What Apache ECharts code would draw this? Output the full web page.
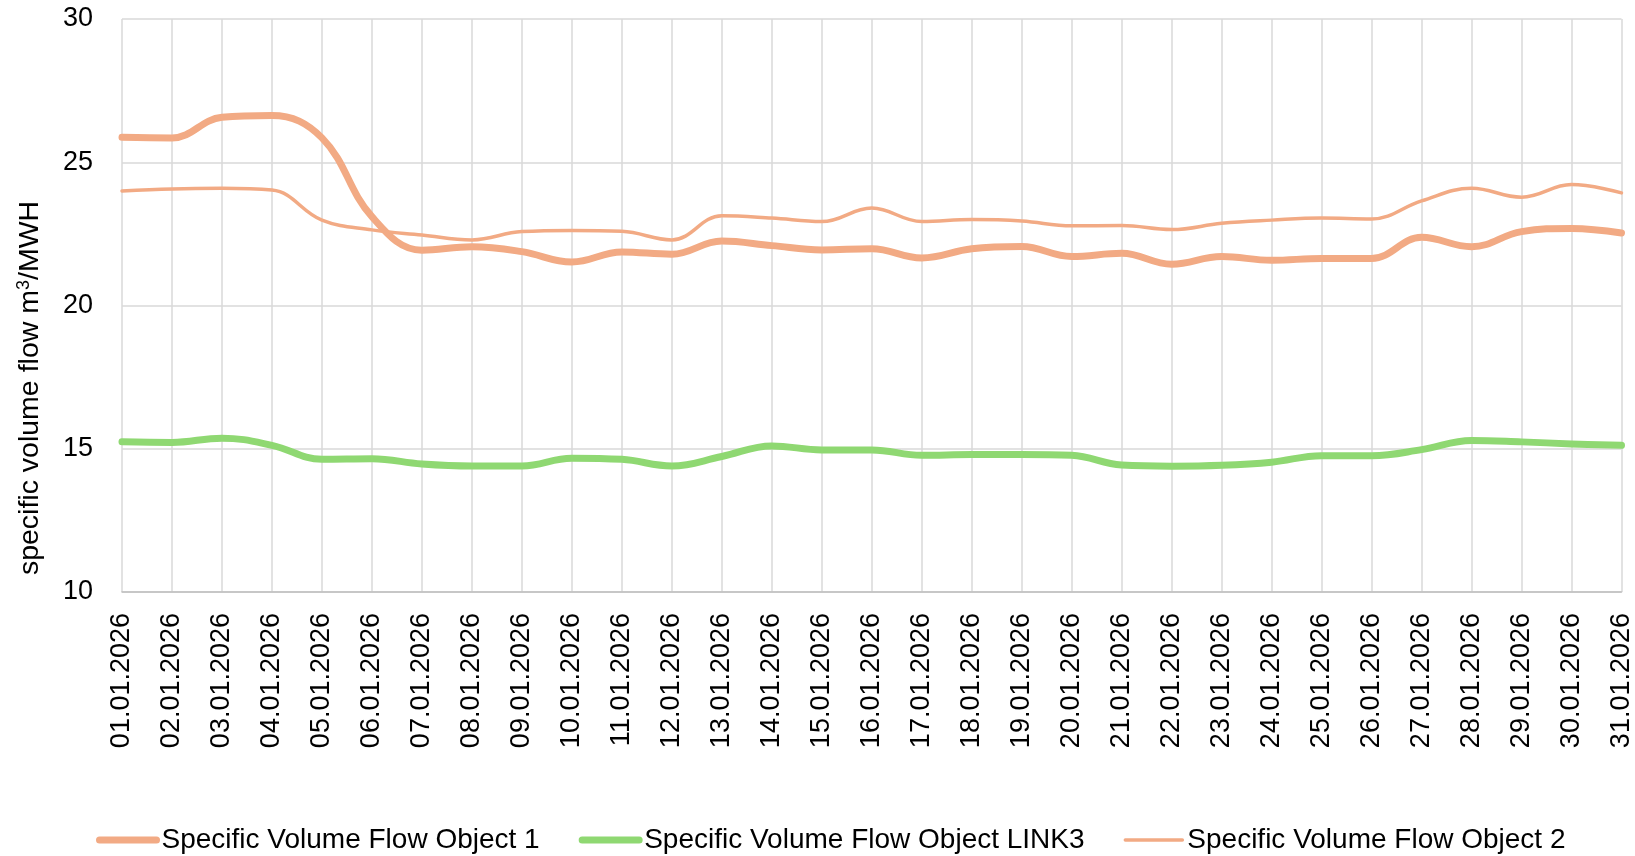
<!DOCTYPE html>
<html>
<head>
<meta charset="utf-8">
<script src="https://cdn.jsdelivr.net/npm/echarts@6/dist/echarts.min.js"></script>
<style>
html,body{margin:0;padding:0;background:#fff;}
#chart{width:1635px;height:856px;}
</style>
</head>
<body>
<div id="chart"></div>
<script>
const categories = ["01.01.2026","02.01.2026","03.01.2026","04.01.2026","05.01.2026","06.01.2026","07.01.2026","08.01.2026","09.01.2026","10.01.2026","11.01.2026","12.01.2026","13.01.2026","14.01.2026","15.01.2026","16.01.2026","17.01.2026","18.01.2026","19.01.2026","20.01.2026","21.01.2026","22.01.2026","23.01.2026","24.01.2026","25.01.2026","26.01.2026","27.01.2026","28.01.2026","29.01.2026","30.01.2026","31.01.2026"];
const object1 = [25.87,25.85,26.57,26.63,25.85,23.1,21.93,22.05,21.88,21.52,21.87,21.79,22.25,22.09,21.94,21.98,21.66,21.98,22.06,21.71,21.82,21.44,21.71,21.58,21.64,21.64,22.38,22.05,22.58,22.69,22.53];
const link3 = [15.24,15.22,15.37,15.12,14.63,14.65,14.47,14.40,14.40,14.67,14.63,14.40,14.73,15.1,14.96,14.96,14.77,14.80,14.80,14.77,14.43,14.39,14.42,14.53,14.76,14.76,14.97,15.29,15.24,15.17,15.12];
const object2 = [24.0,24.07,24.09,24.03,22.98,22.64,22.46,22.29,22.58,22.62,22.59,22.29,23.13,23.05,22.93,23.40,22.93,23.0,22.95,22.78,22.79,22.65,22.87,22.98,23.05,23.02,23.65,24.09,23.78,24.22,23.93];
const seriesNames = ["Specific Volume Flow Object 1","Specific Volume Flow Object LINK3","Specific Volume Flow Object 2"];
const yTicks = {min:10, max:30, interval:5};

const FONT = "'Liberation Sans', Arial, sans-serif";
const ORANGE = '#F2AA84';
const GREEN = '#8FD872';
const widths = [7, 7, 3.5];

const chart = echarts.init(document.getElementById('chart'), null, {renderer:'canvas'});
chart.setOption({
  animation:false,
  backgroundColor:'#fff',
  grid:{left:122,right:12,top:19,bottom:264,containLabel:false},
  legend:{
    data:seriesNames.map((n,i)=>({name:n,lineStyle:{width:widths[i],cap:'round'},itemStyle:{opacity:0}})),
    left:96, top:826,
    itemWidth:57, itemHeight:14, itemGap:39,
    padding:0,
    itemStyle:{opacity:0},
    textStyle:{fontFamily:FONT,fontSize:28,color:'#000'}
  },
  graphic:[{
    type:'text',
    x:30, y:388,
    rotation:Math.PI/2,
    style:{
      text:'specific volume flow m{sup|3}/MWH',
      fontFamily:FONT, fontSize:28.5, fill:'#000',
      align:'center', verticalAlign:'middle',
      rich:{sup:{fontFamily:FONT,fontSize:18,fill:'#000',verticalAlign:'top',padding:[0,0,12,0]}}
    }
  }],
  xAxis:{
    type:'category',
    data:categories,
    boundaryGap:false,
    axisTick:{show:false},
    axisLine:{show:true,lineStyle:{color:'#BFBFBF',width:1.5}},
    axisLabel:{rotate:90,fontFamily:FONT,fontSize:27,color:'#000',margin:21,interval:0},
    splitLine:{show:true,lineStyle:{color:'#D9D9D9',width:1.5}}
  },
  yAxis:{
    type:'value',
    min:yTicks.min, max:yTicks.max, interval:yTicks.interval,
    axisLine:{show:false},
    axisTick:{show:false},
    axisLabel:{fontFamily:FONT,fontSize:27,color:'#000',margin:29},
    splitLine:{show:true,lineStyle:{color:'#D9D9D9',width:1.5}}
  },
  series:[
    {name:seriesNames[0],type:'line',data:object1,smooth:0.4,symbol:'none',
     lineStyle:{color:ORANGE,width:widths[0],cap:'round',join:'round'},itemStyle:{color:ORANGE}},
    {name:seriesNames[1],type:'line',data:link3,smooth:0.4,symbol:'none',
     lineStyle:{color:GREEN,width:widths[1],cap:'round',join:'round'},itemStyle:{color:GREEN}},
    {name:seriesNames[2],type:'line',data:object2,smooth:0.4,symbol:'none',
     lineStyle:{color:ORANGE,width:widths[2],cap:'round',join:'round'},itemStyle:{color:ORANGE}}
  ]
});
</script>
</body>
</html>
